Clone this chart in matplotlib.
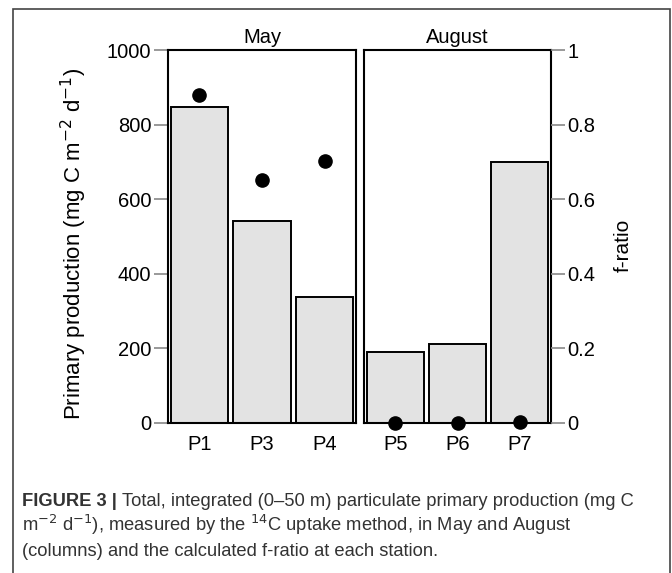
import matplotlib
matplotlib.use('AGG')

import matplotlib.pyplot as plt
from matplotlib.patches import Rectangle

plt.rcParams['font.family'] = ['Liberation Sans', 'DejaVu Sans']

# data
may_stations = ['P1', 'P3', 'P4']
may_production = [848, 542, 339]
may_fratio = [0.879, 0.651, 0.702]

aug_stations = ['P5', 'P6', 'P7']
aug_production = [191, 213, 699]
aug_fratio = [0.0, 0.0, 0.003]

panel_titles = ['May', 'August']

W, H = 672, 573
fig = plt.figure(figsize=(W / 100, H / 100), dpi=100)

def ax_rect(x0, y0, x1, y1):
    return [x0 / W, 1 - y1 / H, (x1 - x0) / W, (y1 - y0) / H]

ax_may = fig.add_axes(ax_rect(168, 50, 356, 423))
ax_aug = fig.add_axes(ax_rect(364, 50, 551, 423))

bar_color = '#e3e3e3'
tick_color = '#888888'

for ax, st, prod, fr, title in [(ax_may, may_stations, may_production, may_fratio, panel_titles[0]),
                                 (ax_aug, aug_stations, aug_production, aug_fratio, panel_titles[1])]:
    x = range(len(st))
    ax.bar(x, prod, width=0.91, color=bar_color, edgecolor='black', linewidth=1.4, zorder=2)
    ax.set_xlim(-0.5, 2.5)
    ax.set_ylim(0, 1000)
    ax.set_xticks(list(x))
    ax.set_xticklabels(st, fontsize=14.5)
    ax.tick_params(axis='x', length=0, pad=9)
    ax.set_title(title, fontsize=14.5, pad=5)
    for s in ax.spines.values():
        s.set_linewidth(1.5)
    # f-ratio on a 0-1 twin scale
    ax2 = ax.twinx()
    ax2.set_ylim(0, 1)
    ax2.plot(list(x), fr, 'o', color='black', markersize=9.5, clip_on=False, zorder=5)
    ax2.set_yticks([])
    for s in ax2.spines.values():
        s.set_visible(False)
    if ax is ax_aug:
        ax2.set_yticks([0, 0.2, 0.4, 0.6, 0.8, 1])
        ax2.set_yticklabels(['0', '0.2', '0.4', '0.6', '0.8', '1'], fontsize=14.5)
        ax2.tick_params(axis='y', length=10, width=1.2, color=tick_color, pad=2)
        ax2.set_ylabel('f-ratio', fontsize=15)
        ax2.yaxis.set_label_coords(1.335, 0.475)

ax_may.set_yticks([0, 200, 400, 600, 800, 1000])
ax_may.tick_params(axis='y', length=10, width=1.2, color=tick_color, pad=2, labelsize=14.5)
ax_may.set_ylabel('Primary production (mg C m$^{-2}$ d$^{-1}$)', fontsize=16)
ax_may.yaxis.set_label_coords(-0.42, 0.48)
ax_aug.set_yticks([])

# figure frame
fig.patches.append(Rectangle((13 / W, -0.05), (670 - 13) / W, 1.05 - 9 / H,
                             transform=fig.transFigure, fill=False,
                             edgecolor='#444444', linewidth=1.2))

# caption
cap_x = 22 / W
cap_size = 13.2
bold = fig.text(cap_x, 1 - 506 / H, 'FIGURE 3 |', fontsize=cap_size, fontweight='bold',
                color='#333333', va='baseline')
fig.canvas.draw()
bb = bold.get_window_extent()
fig.text(bb.x1 / W + 5 / W, 1 - 506 / H,
         'Total, integrated (0\u201350 m) particulate primary production (mg C',
         fontsize=cap_size, color='#333333', va='baseline')
fig.text(cap_x, 1 - 531 / H,
         'm$^{\u22122}$ d$^{\u22121}$), measured by the $^{14}$C uptake method, in May and August',
         fontsize=cap_size, color='#333333', va='baseline')
fig.text(cap_x, 1 - 556 / H,
         '(columns) and the calculated f-ratio at each station.',
         fontsize=cap_size, color='#333333', va='baseline')

fig.savefig('out.png', dpi=100)
